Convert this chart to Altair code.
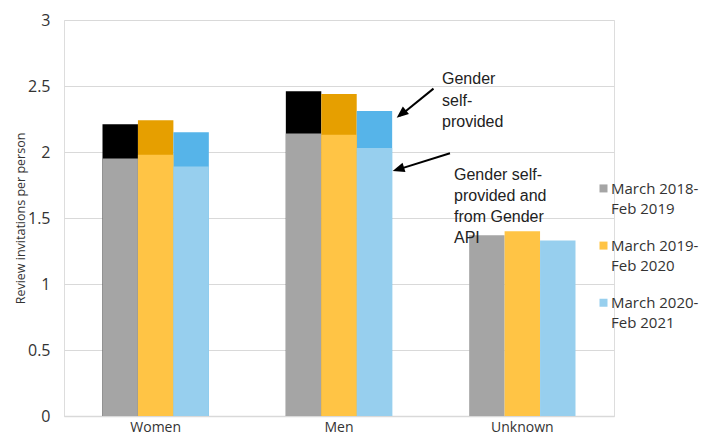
import altair as alt
import pandas as pd

genders = ["Women", "Men", "Unknown"]
periods = ["March 2018-Feb 2019", "March 2019-Feb 2020", "March 2020-Feb 2021"]

# Review invitations per person, gender self-provided and from Gender API
self_and_api = {
    "Women": [1.95, 1.98, 1.89],
    "Men": [2.14, 2.13, 2.03],
    "Unknown": [1.37, 1.40, 1.33],
}
# Review invitations per person, gender self-provided only
self_only = {
    "Women": [2.21, 2.24, 2.15],
    "Men": [2.46, 2.44, 2.31],
}

light_colors = ["#A5A5A5", "#FFC445", "#97CFEE"]
dark_colors = ["#000000", "#E69F00", "#56B4E9"]

y_ticks = [0, 0.5, 1, 1.5, 2, 2.5, 3]
y_title = "Review invitations per person"
anno_self = ["Gender", "self-", "provided"]
anno_both = ["Gender self-", "provided and", "from Gender", "API"]

light_df = pd.DataFrame(
    [{"gender": g, "period": p, "value": v}
     for g in genders for p, v in zip(periods, self_and_api[g])]
)
dark_df = pd.DataFrame(
    [{"gender": g, "period": p, "value": v}
     for g in self_only for p, v in zip(periods, self_only[g])]
)
legend_df = pd.DataFrame({
    "period": periods,
    "idx": list(range(len(periods))),
    "label": [p.replace("-", "-\n", 1) for p in periods],
})

FONT = "Open Sans"
W, H = 550, 396
YMAX = 3.0


def yp(v):
    """pixel offset from plot top for a value on the y axis (for annotations)"""
    return (YMAX - v) * H / YMAX


x_enc = alt.X(
    "gender:N",
    sort=genders,
    title=None,
    scale=alt.Scale(paddingInner=0.42, paddingOuter=0.21),
    axis=alt.Axis(
        labelAngle=0, labelFont=FONT, labelFontSize=14, labelColor="#333333",
        labelPadding=4, ticks=False, domainColor="#d9d9d9", domainWidth=1.5,
    ),
)
xoff_enc = alt.XOffset("period:N", sort=periods,
                       scale=alt.Scale(paddingInner=0, paddingOuter=0))
y_enc = alt.Y(
    "value:Q",
    scale=alt.Scale(domain=[0, YMAX], nice=False),
    axis=alt.Axis(
        values=y_ticks, format="~g", title=y_title, titleFont=FONT,
        titleFontSize=12.5, titleFontWeight="normal", titleColor="#333333",
        titleX=-37, titleBaseline="bottom",
        labelFont=FONT, labelFontSize=16, labelColor="#333333",
        labelPadding=14, ticks=False, domain=False,
        gridColor="#d9d9d9", gridWidth=1.2,
    ),
)

dark = alt.Chart(dark_df).mark_bar().encode(
    x=x_enc, xOffset=xoff_enc, y=y_enc,
    color=alt.Color("period:N", sort=periods,
                    scale=alt.Scale(domain=periods, range=dark_colors),
                    legend=None),
)

light_scale = alt.Scale(domain=periods, range=light_colors)

light = alt.Chart(light_df).mark_bar().encode(
    x=x_enc, xOffset=xoff_enc, y=y_enc,
    color=alt.Color("period:N", sort=periods, scale=light_scale, legend=None),
)

# legend (squares + two-line labels)
leg_y0 = yp(1.724)
leg_step = yp(1.291) - yp(1.724)
leg_sq = alt.Chart(legend_df).mark_square(size=64, opacity=1).transform_calculate(
    ly=f"{leg_y0} + datum.idx * {leg_step}"
).encode(
    x=alt.value(539.5),
    y=alt.Y("ly:Q", scale=None),
    color=alt.Color("period:N", sort=periods, scale=light_scale, legend=None),
)
leg_txt = alt.Chart(legend_df).mark_text(
    align="left", baseline="alphabetic", dy=5.5, lineBreak="\n", lineHeight=20,
    font=FONT, fontSize=15, color="#333333",
).transform_calculate(
    ly=f"{leg_y0} + datum.idx * {leg_step}"
).encode(
    x=alt.value(547),
    y=alt.Y("ly:Q", scale=None),
    text="label:N",
)

one = alt.Data(values=[{}])

text1 = alt.Chart(one).mark_text(
    text=anno_self, align="left", baseline="middle", font="Liberation Sans",
    fontSize=16, lineHeight=21.5, color="#222222",
).encode(x=alt.value(378), y=alt.value(yp(2.55)))

text2 = alt.Chart(one).mark_text(
    text=anno_both, align="left", baseline="middle", font="Liberation Sans",
    fontSize=16, lineHeight=21, color="#222222",
).encode(x=alt.value(390), y=alt.value(yp(1.827)))

shaft1 = alt.Chart(one).mark_rule(color="black", strokeWidth=2).encode(
    x=alt.value(369.5), y=alt.value(yp(2.48)),
    x2=alt.value(336), y2=alt.value(yp(2.275)))
shaft2 = alt.Chart(one).mark_rule(color="black", strokeWidth=2).encode(
    x=alt.value(386), y=alt.value(yp(1.99)),
    x2=alt.value(332), y2=alt.value(yp(1.863)))

ARROW = "M0,0L-0.65,1.6L0.65,1.6Z"
head1 = alt.Chart(one).mark_point(
    shape=ARROW, filled=True, color="black", opacity=1, size=220, angle=230.7,
).encode(x=alt.value(332.7), y=alt.value(yp(2.26)))
head2 = alt.Chart(one).mark_point(
    shape=ARROW, filled=True, color="black", opacity=1, size=220, angle=252.3,
).encode(x=alt.value(328.7), y=alt.value(yp(1.856)))

chart = alt.layer(
    dark, light, leg_sq, leg_txt, shaft1, shaft2, head1, head2, text1, text2
).resolve_scale(color="independent").properties(
    width=W, height=H,
    padding={"left": 56, "top": 12, "right": 87, "bottom": 23},
    autosize=alt.AutoSizeParams(type="none"),
).configure_view(stroke=None).configure(background="white")

chart.save("out.html", embed_options={"renderer": "svg", "actions": False})
